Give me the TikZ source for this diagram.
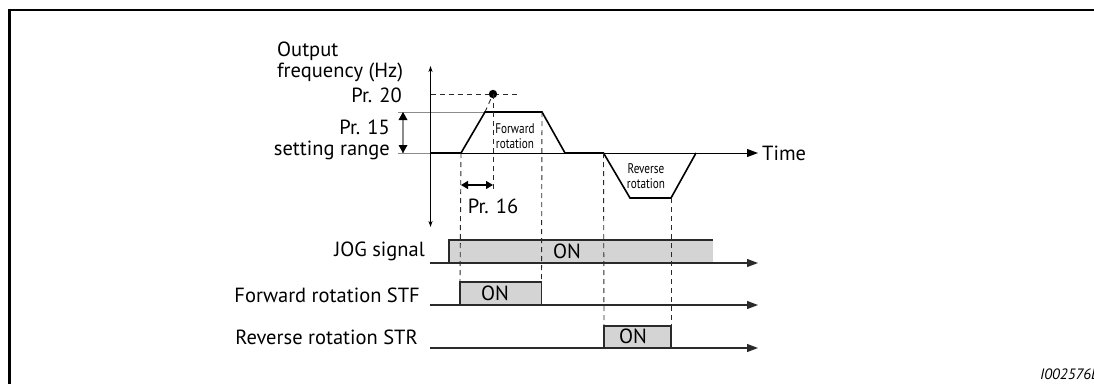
\documentclass[tikz,border=0pt]{standalone}
\usepackage{fontspec}
\setmainfont{PT Sans}
\usetikzlibrary{arrows.meta}
\definecolor{boxfill}{HTML}{D4D4D4}
\definecolor{refgray}{HTML}{8C8C8C}
\definecolor{dark}{HTML}{2A2A2A}
\tikzset{
  lbl/.style={inner sep=0pt, font=\fontsize{20.5}{21}\selectfont},
  smalllbl/.style={inner sep=0pt, align=center, font=\fontsize{14}{15.5}\selectfont, xscale=0.8, transform shape},
  profile/.style={line width=1.6pt, black, line join=miter},
  refline/.style={line width=1pt, refgray},
  guide/.style={line width=0.9pt, dark, dash pattern=on 5pt off 4pt},
  sigline/.style={line width=1.2pt, dark, -{Triangle[length=11pt,width=8pt]}},
  sigbox/.style={line width=1.2pt, dark, fill=boxfill},
  axisarrow/.style={line width=1pt, black, {Stealth[length=6pt,width=4pt]}-{Stealth[length=6pt,width=4pt]}},
  dimarrow/.style={line width=1.3pt, black, {Triangle[length=7pt,width=8pt]}-{Triangle[length=7pt,width=8pt]}},
}
\begin{document}
\begin{tikzpicture}[x=1pt,y=-1pt]
\useasboundingbox (0,0) rectangle (1094,383);
% frame
\draw[line width=2.5pt] (9.5,395) -- (9.5,10) -- (1100,10);

% key coordinates
\coordinate (axT) at (430.5,66);
\coordinate (axB) at (430.5,227);
\coordinate (b0) at (430.5,153);
\coordinate (r1) at (461,153);
\coordinate (r2) at (485,112);
\coordinate (r3) at (542,112);
\coordinate (r4) at (565,153);
\coordinate (r5) at (603.5,153);
\coordinate (r6) at (630,198);
\coordinate (r7) at (671,198);
\coordinate (r8) at (696,153);
\coordinate (tEnd) at (758,153);
\coordinate (refL) at (398,112);
\coordinate (baseL) at (398,153);
\coordinate (p20L) at (430.5,94);
\coordinate (p20R) at (517,94);
\coordinate (dot) at (493,94);
\coordinate (d16) at (493,192);
\coordinate (p15T) at (403,112);
\coordinate (p15B) at (403,153);
\coordinate (p16L) at (461,185);
\coordinate (p16R) at (493,185);

% reference (gray) lines
\draw[refline] (refL) -- (r2);
\draw[line width=1pt, black, -{Triangle[length=11pt,width=8pt]}] (baseL) -- (tEnd);
\draw[refline] (baseL) -- (b0);

% axis
\draw[axisarrow] (axB) -- (axT);

% Pr.20 dashed and dot
\draw[guide] (p20L) -- (p20R);
\draw[guide] (r2) -- (dot);
\fill (dot) circle (4.2pt);

% profile
\draw[profile] (b0) -- (r1) -- (r2) -- (r3) -- (r4) -- (r5) -- (r6) -- (r7) -- (r8);

% Pr.15 arrow
\draw[line width=1.3pt, refgray] (p15T) -- (p15B);
\fill (p15T) -- ++(-4.5,8) -- ++(9,0) -- cycle;
\fill (p15B) -- ++(-4.5,-8) -- ++(9,0) -- cycle;

% Pr.16 arrow
\draw[dimarrow] (p16L) -- (p16R);

% signal chart coordinates
\coordinate (jogS) at (430,263);
\coordinate (jogE) at (758,263);
\coordinate (stfS) at (430,305);
\coordinate (stfE) at (758,305);
\coordinate (strS) at (430,348);
\coordinate (strE) at (758,348);

% boxes
\fill[boxfill] (449,240) rectangle (713,263);
\draw[line width=1.2pt, dark] (449,263) -- (449,240) -- (713,240);
\draw[sigbox] (460,305) -- (460,282) -- (541.5,282) -- (541.5,305);
\draw[sigbox] (604,348) -- (604,326) -- (671,326) -- (671,348);

% guides (dashed verticals)
\draw[guide] (r1) -- (460,282);
\draw[guide] (dot) -- (d16);
\draw[guide] (r3) -- (541.5,282);
\draw[guide] (r5) -- (604,326);
\draw[guide] (r7) -- (671,326);

% signal lines
\draw[sigline] (jogS) -- (jogE);
\draw[sigline] (stfS) -- (stfE);
\draw[sigline] (strS) -- (strE);

% labels
\node[lbl, anchor=west, align=left] (outl) at (277,62) {Output\\frequency (Hz)};
\node[lbl, anchor=east] (p20) at (402,95) {Pr. 20};
\node[lbl, anchor=east, align=right] (p15) at (390,140) {Pr. 15\\setting range};
\node[lbl] (p16) at (493,206) {Pr. 16};
\node[lbl, anchor=west] (time) at (762,153) {Time};
\node[smalllbl] (fwd) at (515,136) {Forward\\rotation};
\node[smalllbl] (rev) at (646,176) {Reverse\\rotation};

\node[lbl, anchor=east] (jogl) at (425,251) {JOG signal};
\node[lbl, anchor=east] (stfl) at (420,295) {Forward rotation STF};
\node[lbl, anchor=east] (strl) at (418,337) {Reverse rotation STR};
\node[lbl] (on1) at (567,251) {ON};
\node[lbl] (on2) at (495,293) {ON};
\node[lbl] (on3) at (633,336) {ON};

\node[inner sep=0pt, anchor=west, font=\fontsize{15}{16}\selectfont\itshape] (fig) at (1040,374) {I002576E};
\end{tikzpicture}
\end{document}
